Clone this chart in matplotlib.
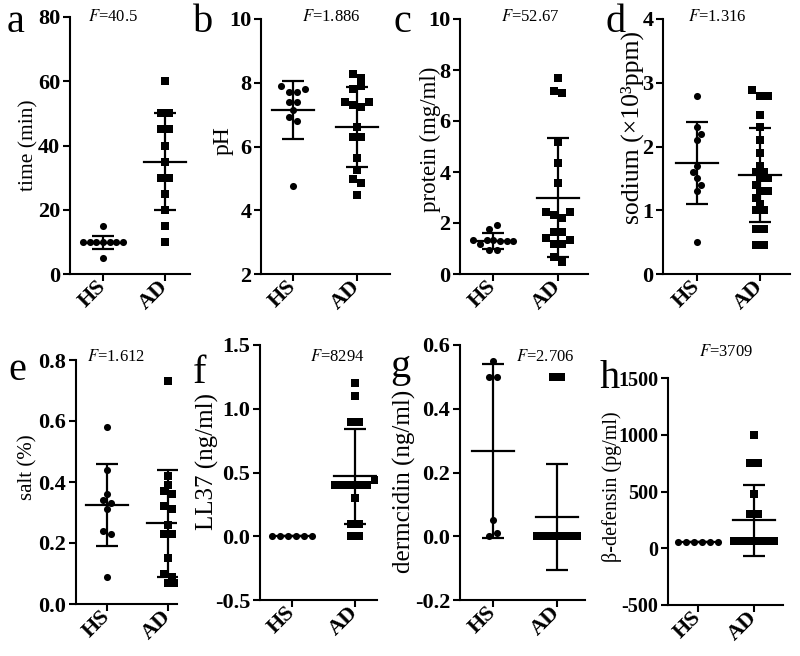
import numpy as np
import matplotlib
matplotlib.use('Agg')
import matplotlib.pyplot as plt

plt.rcParams['font.family'] = ['Liberation Serif', 'DejaVu Serif']
plt.rcParams['mathtext.fontset'] = 'stix'
plt.rcParams['axes.unicode_minus'] = False

groups = ['HS', 'AD']

# values
time_hs = [15, 10, 10, 10, 10, 10, 10, 10, 5]
time_ad = [60, 50, 50, 45, 45, 40, 35, 30, 30, 25, 20, 15, 10]
ph_hs = [7.90, 7.72, 7.72, 7.79, 7.41, 7.41, 7.14, 6.91, 6.81, 4.77]
ph_ad = [8.27, 8.14, 7.79, 7.90, 7.41, 7.29, 7.25, 7.41, 6.60, 6.31, 6.31,
         5.65, 5.26, 4.98, 4.84, 4.48]
protein_hs = [1.76, 1.92, 1.35, 1.18, 1.33, 1.32, 1.30, 1.30, 1.28, 0.95, 0.93]
protein_ad = [7.70, 7.19, 7.11, 5.19, 4.37, 3.56, 2.42, 2.31, 2.20, 2.42,
              1.66, 1.66, 1.40, 1.18, 1.18, 1.33, 0.65, 0.48]
sodium_hs = [2.8, 2.3, 2.2, 2.1, 1.7, 1.6, 1.5, 1.4, 1.3, 0.5]
sodium_ad = [2.88, 2.8, 2.8, 2.5, 2.3, 2.1, 1.9, 1.7, 1.6, 1.6, 1.5, 1.5,
             1.4, 1.3, 1.3, 1.2, 1.1, 1.0, 1.0, 0.7, 0.7, 0.45, 0.45]
salt_hs = [0.58, 0.44, 0.36, 0.34, 0.33, 0.31, 0.24, 0.23, 0.09]
salt_ad = [0.73, 0.42, 0.39, 0.37, 0.36, 0.32, 0.31, 0.26, 0.23, 0.23,
           0.15, 0.10, 0.09, 0.07, 0.07]
ll37_hs = [0.0, 0.0, 0.0, 0.0, 0.0, 0.0]
ll37_ad = [1.20, 1.10, 0.90, 0.90, 0.40, 0.40, 0.40, 0.40, 0.40, 0.44,
           0.30, 0.10, 0.10, 0.0, 0.0]
dermcidin_hs = [0.55, 0.50, 0.50, 0.05, 0.0, 0.01]
dermcidin_ad = [0.50, 0.50, 0.0, 0.0, 0.0, 0.0, 0.0, 0.0, 0.0, 0.0, 0.0,
                0.0, 0.0, 0.0, 0.0, 0.0, 0.0]
defensin_hs = [55, 55, 55, 55, 55, 55]
defensin_ad = [1000, 750, 750, 480, 300, 300, 60, 60, 60, 60, 60, 60, 60,
               60, 60, 60, 60]

# mean and SD bars as drawn
mean_hs = [9.8, 7.15, 1.31, 1.74, 0.325, 0.0, 0.268, 55]
sd_hs = [2.1, 0.91, 0.31, 0.64, 0.135, 0.0, 0.272, 0]
mean_ad = [35, 6.62, 3.0, 1.55, 0.265, 0.47, 0.06, 245]
sd_ad = [15, 1.26, 2.33, 0.74, 0.175, 0.37, 0.166, 310]

f_values = ['40.5', '1.886', '52.67', '1.316', '1.612', '8294', '2.706', '3709']
letters = ['a', 'b', 'c', 'd', 'e', 'f', 'g', 'h']
ylabels = ['time (min)', 'pH', 'protein (mg/ml)', 'sodium (\u00d710\u00b3ppm)',
           'salt (%)', 'LL37 (ng/ml)', 'dermcidin (ng/ml)', '\u03b2-defensin (pg/ml)']
yticks = [[0, 20, 40, 60, 80], [2, 4, 6, 8, 10], [0, 2, 4, 6, 8, 10],
          [0, 1, 2, 3, 4], [0.0, 0.2, 0.4, 0.6, 0.8], [-0.5, 0.0, 0.5, 1.0, 1.5],
          [-0.2, 0.0, 0.2, 0.4, 0.6], [-500, 0, 500, 1000, 1500]]

hs_data = [time_hs, ph_hs, protein_hs, sodium_hs, salt_hs, ll37_hs, dermcidin_hs, defensin_hs]
ad_data = [time_ad, ph_ad, protein_ad, sodium_ad, salt_ad, ll37_ad, dermcidin_ad, defensin_ad]

# layout in pixels: axes box (left, top, right, bottom), xlim, letter pos, F pos, ylabel pos/size
W, H = 800, 656
boxes = [(70, 17, 190, 274), (261, 19, 390, 274), (460, 19, 588, 274), (663, 19, 790, 274),
         (76, 360, 177, 604), (260, 345, 377, 600), (460, 345, 585, 600), (668, 378, 783, 605)]
xlims = [(-0.53, 1.40), (-0.5, 1.52), (-0.52, 1.47), (-0.54, 1.48),
         (-0.51, 1.15), (-0.51, 1.35), (-0.52, 1.44), (-0.54, 1.52)]
letter_pos = [(16, 32), (203, 32), (402, 32), (616, 32),
              (17, 380), (200, 383), (400, 377), (610, 388)]
f_pos = [(113, 17), (331, 17), (530, 17), (717, 17),
         (116, 357), (337, 357), (545, 357), (726, 352)]
label_px = [(29, 145), (223, 141), (430, 139), (632, 128),
            (28, 467), (207, 462), (404, 481), (612, 487)]
label_size = [15.5, 17, 16.5, 18.5, 15, 18, 18, 14.5]
tick_size = [16, 16, 16, 16, 16, 16, 16, 14.5]


def swarm(vals, ppx, ppy, tol_px=6, step_px=8, half_px=20, diam_px=7):
    # spread points with (nearly) equal values side by side, nudge colliding rows
    vals = np.asarray(vals, dtype=float)
    rows = []
    for i, v in enumerate(vals):
        if rows and abs(v - vals[rows[-1][0]]) * ppy <= tol_px + 1e-6:
            rows[-1].append(i)
        else:
            rows.append([i])
    offs = np.zeros(len(vals))
    px_list, py_list = [], []
    flip = 1
    for row in rows:
        k = len(row)
        s = min(step_px, 2 * half_px / (k - 1)) if k > 1 else 0
        base = np.array([(j - (k - 1) / 2) * s for j in range(k)])
        ys = vals[row] * ppy
        chosen = base
        for shift in [0, flip * step_px / 2, -flip * step_px / 2, flip * step_px, -flip * step_px]:
            xs = base + shift
            if px_list:
                d = np.hypot(xs[:, None] - np.array(px_list)[None, :],
                             ys[:, None] - np.array(py_list)[None, :])
                if d.min() < diam_px:
                    continue
            chosen = xs
            if shift != 0:
                flip = -flip
            break
        offs[row] = chosen
        px_list.extend(chosen)
        py_list.extend(ys)
    return offs / ppx


fig = plt.figure(figsize=(W / 100, H / 100), dpi=100)

for p in range(8):
    l, t, r, b = boxes[p]
    ax = fig.add_axes([l / W, 1 - b / H, (r - l) / W, (b - t) / H])
    yt = yticks[p]
    ax.set_xlim(*xlims[p])
    ax.set_ylim(yt[0], yt[-1])
    ppx = (r - l) / (xlims[p][1] - xlims[p][0])
    ppy = (b - t) / (yt[-1] - yt[0])

    for x0, vals, m, sd, mk, sz in [(0, hs_data[p], mean_hs[p], sd_hs[p], 'o', 26),
                                    (1, ad_data[p], mean_ad[p], sd_ad[p], 's', 28)]:
        offs = swarm(vals, ppx, ppy)
        ax.scatter(x0 + offs, vals, marker=mk, s=sz, c='k', linewidths=0, zorder=3)
        ax.errorbar([x0], [m], yerr=[sd], fmt='none', ecolor='k', elinewidth=1.6,
                    capsize=8, capthick=1.6, zorder=2)
        mh = 21 / ppx
        ax.plot([x0 - mh, x0 + mh], [m, m], color='k', lw=1.6, zorder=2)

    ax.spines['top'].set_visible(False)
    ax.spines['right'].set_visible(False)
    ax.spines['left'].set_linewidth(1.5)
    ax.spines['bottom'].set_linewidth(1.5)
    ax.tick_params(direction='out', length=5, width=1.5, labelsize=tick_size[p], pad=2)
    ax.set_yticks(yt)
    for lbl in ax.get_yticklabels():
        lbl.set_fontweight('bold')
    ax.set_xticks([0, 1])
    ax.set_xticklabels(groups, rotation=45, ha='right', va='center',
                       rotation_mode='anchor', fontweight='bold', fontsize=16)

    lx, ly = label_px[p]
    ax.set_ylabel(ylabels[p], fontsize=label_size[p], va='center')
    ax.yaxis.set_label_coords((lx - l) / (r - l), (b - ly) / (b - t))

    fig.text(letter_pos[p][0] / W, 1 - letter_pos[p][1] / H, letters[p],
             fontsize=29, ha='center', va='baseline')
    fig.text(f_pos[p][0] / W, 1 - f_pos[p][1] / H, '$F$=' + f_values[p],
             fontsize=12, ha='center', va='center')

fig.savefig('out.png', dpi=100)
